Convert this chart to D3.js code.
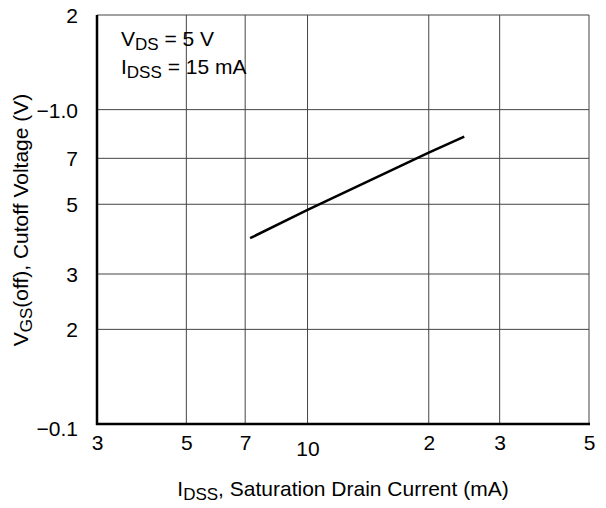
<!DOCTYPE html>
<html>
<head>
<meta charset="utf-8">
<script src="https://cdn.jsdelivr.net/npm/d3@7"></script>
<style>
  body { margin: 0; background: #fff; }
  svg { display: block; font-family: "Liberation Sans", Arial, sans-serif; }
  .grid line { stroke: #444; stroke-width: 1; }
  .tick text { font-size: 21px; fill: #000; }
</style>
</head>
<body>
<svg id="chart"></svg>
<script>
// IDSS vs VGS(off) — log-log characteristic

const width = 606;
const height = 508;
const margin = { top: 15, right: 17, bottom: 84, left: 97 };

// Data
const idss = [7.2, 10, 20, 24.5];
const vgsOff = [0.39, 0.48, 0.73, 0.82];

// Ticks and their printed labels
const xTicks = [3, 5, 7, 10, 20, 30, 50];
const xLabels = ['3', '5', '7', '10', '2', '3', '5'];
const yTicks = [0.1, 0.2, 0.3, 0.5, 0.7, 1, 2];
const yLabels = ['\u22120.1', '2', '3', '5', '7', '\u22121.0', '2'];

const svg = d3.select('#chart')
  .attr('width', width)
  .attr('height', height);

const x = d3.scaleLog()
  .domain([3, 50])
  .range([margin.left, width - margin.right]);

const y = d3.scaleLog()
  .domain([0.1, 2])
  .range([height - margin.bottom, margin.top]);

// grid
const grid = svg.append('g').attr('class', 'grid');
grid.selectAll('line.v')
  .data(xTicks)
  .join('line')
  .attr('class', 'v')
  .attr('x1', d => x(d)).attr('x2', d => x(d))
  .attr('y1', margin.top).attr('y2', height - margin.bottom);
grid.selectAll('line.h')
  .data(yTicks)
  .join('line')
  .attr('class', 'h')
  .attr('x1', margin.left).attr('x2', width - margin.right)
  .attr('y1', d => y(d)).attr('y2', d => y(d));

// heavier left / bottom axis lines
svg.append('line')
  .attr('x1', margin.left).attr('x2', margin.left)
  .attr('y1', margin.top).attr('y2', height - margin.bottom + 1)
  .attr('stroke', '#000').attr('stroke-width', 2.5);
svg.append('line')
  .attr('x1', margin.left - 1).attr('x2', width - margin.right + 1)
  .attr('y1', height - margin.bottom).attr('y2', height - margin.bottom)
  .attr('stroke', '#000').attr('stroke-width', 2.5);

// x axis labels
const xAxis = d3.axisBottom(x)
  .tickValues(xTicks)
  .tickFormat((d, i) => xLabels[i])
  .tickSize(0);
const gx = svg.append('g')
  .attr('transform', `translate(0,${height - margin.bottom})`)
  .call(xAxis);
gx.select('.domain').remove();
gx.selectAll('.tick text')
  .attr('dy', 0)
  .attr('y', d => d === 10 ? 32 : 26);

// y axis labels
const yAxis = d3.axisLeft(y)
  .tickValues(yTicks)
  .tickFormat((d, i) => yLabels[i])
  .tickSize(0)
  .tickPadding(19);
const gy = svg.append('g')
  .attr('transform', `translate(${margin.left},0)`)
  .call(yAxis);
gy.select('.domain').remove();
gy.selectAll('.tick text')
  .attr('dy', d => d === 0.1 ? '0.55em' : '0.36em');

// curve
const line = d3.line()
  .x((d, i) => x(idss[i]))
  .y(d => y(d));
svg.append('path')
  .datum(vgsOff)
  .attr('d', line)
  .attr('fill', 'none')
  .attr('stroke', '#000')
  .attr('stroke-width', 2.5);

// text with a subscript part
function subText(sel, main, sub, rest) {
  sel.append('tspan').text(main);
  sel.append('tspan').attr('font-size', 17).attr('dy', 4).text(sub);
  sel.append('tspan').attr('dy', -4).text(rest);
}

// conditions
subText(svg.append('text').attr('font-size', 21).attr('x', 121).attr('y', 46),
  'V', 'DS', ' = 5 V');
subText(svg.append('text').attr('font-size', 21).attr('x', 121).attr('y', 74),
  'I', 'DSS', ' = 15 mA');

// axis titles
subText(svg.append('text')
  .attr('x', 343).attr('y', 496)
  .attr('text-anchor', 'middle')
  .attr('font-size', 21),
  'I', 'DSS', ', Saturation Drain Current (mA)');

subText(svg.append('text')
  .attr('transform', 'translate(28,220) rotate(-90)')
  .attr('text-anchor', 'middle')
  .attr('font-size', 21),
  'V', 'GS', '(off), Cutoff Voltage (V)');
</script>
</body>
</html>
